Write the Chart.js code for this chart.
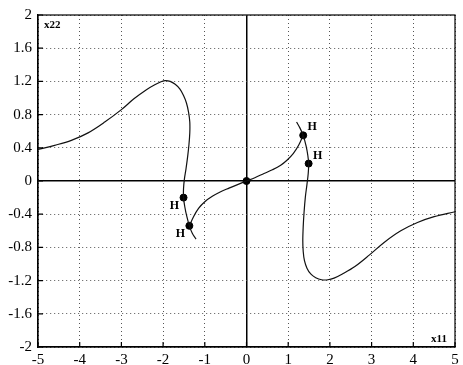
<!DOCTYPE html>
<html>
<head>
<meta charset="utf-8">
<script src="https://cdn.jsdelivr.net/npm/chart.js@4/dist/chart.umd.min.js"></script>
<style>
  html, body { margin: 0; padding: 0; background: #fff; }
  #wrap { width: 463px; height: 365px; }
</style>
</head>
<body>
<div id="wrap"><canvas id="plot"></canvas></div>
<script>
// outer branch, left half
const branchAx = [-5, -4.6, -4.2, -3.8, -3.4, -3.0, -2.7, -2.4, -2.2, -2.05, -1.95, -1.83, -1.71, -1.6, -1.51, -1.44, -1.39, -1.36, -1.36, -1.38, -1.41, -1.45, -1.49, -1.51, -1.51, -1.48, -1.43, -1.37, -1.30, -1.21];
const branchAy = [0.38, 0.43, 0.49, 0.58, 0.71, 0.86, 0.99, 1.10, 1.16, 1.195, 1.21, 1.20, 1.165, 1.11, 1.03, 0.94, 0.83, 0.71, 0.58, 0.44, 0.30, 0.15, 0.02, -0.09, -0.20, -0.31, -0.43, -0.54, -0.63, -0.70];
// branch from the origin to the left
const branchBx = [0, -0.2, -0.42, -0.62, -0.82, -1.0, -1.15, -1.27, -1.37];
const branchBy = [0, -0.04, -0.086, -0.13, -0.185, -0.25, -0.33, -0.43, -0.54];
// outer branch, right half
const branchCx = [1.2, 1.28, 1.36, 1.43, 1.47, 1.49, 1.48, 1.45, 1.41, 1.38, 1.36, 1.35, 1.36, 1.39, 1.45, 1.54, 1.66, 1.8, 1.95, 2.1, 2.3, 2.6, 2.95, 3.3, 3.7, 4.1, 4.5, 5];
const branchCy = [0.71, 0.64, 0.55, 0.42, 0.31, 0.21, 0.09, -0.04, -0.20, -0.38, -0.55, -0.72, -0.85, -0.96, -1.05, -1.12, -1.165, -1.19, -1.19, -1.17, -1.12, -1.03, -0.89, -0.74, -0.60, -0.50, -0.43, -0.37];
// branch from the origin to the right
const branchDx = [0, 0.2, 0.42, 0.62, 0.82, 0.97, 1.12, 1.25, 1.36];
const branchDy = [0, 0.04, 0.09, 0.135, 0.19, 0.25, 0.33, 0.43, 0.55];
// marked points
const markX = [-1.51, -1.37, 1.36, 1.49, 0];
const markY = [-0.2, -0.54, 0.55, 0.21, 0];
const markText = ["H", "H", "H", "H", ""];

const xTicks = [-5, -4, -3, -2, -1, 0, 1, 2, 3, 4, 5];
const yTicks = [-2, -1.6, -1.2, -0.8, -0.4, 0, 0.4, 0.8, 1.2, 1.6, 2];

const SERIF = "'Liberation Serif', 'Times New Roman', serif";

function pts(xs, ys) {
  return xs.map((x, i) => ({ x: x, y: ys[i] }));
}

function curve(xs, ys) {
  return {
    data: pts(xs, ys),
    showLine: true,
    borderColor: "#111",
    borderWidth: 1.2,
    pointRadius: 0,
    tension: 0.35,
    fill: false,
  };
}

const isZero = (c) => c.tick && Math.abs(c.tick.value) < 1e-9;

// frame, inward tick marks, H labels and axis names
const decorations = {
  id: "decorations",
  afterDraw(chart) {
    const ctx = chart.ctx;
    const a = chart.chartArea;
    const xs = chart.scales.x;
    const ys = chart.scales.y;
    ctx.save();
    ctx.strokeStyle = "#000";
    ctx.lineWidth = 1.2;
    ctx.strokeRect(a.left, a.top, a.right - a.left, a.bottom - a.top);

    ctx.beginPath();
    xTicks.forEach((v) => {
      const px = xs.getPixelForValue(v);
      ctx.moveTo(px, a.bottom);
      ctx.lineTo(px, a.bottom - 5);
    });
    yTicks.forEach((v) => {
      const py = ys.getPixelForValue(v);
      ctx.moveTo(a.left, py);
      ctx.lineTo(a.left + 5, py);
    });
    ctx.stroke();

    ctx.fillStyle = "#000";
    ctx.font = "bold 12px " + SERIF;
    ctx.textAlign = "center";
    ctx.textBaseline = "middle";
    markText.forEach((t, i) => {
      if (!t) return;
      const px = xs.getPixelForValue(markX[i]);
      const py = ys.getPixelForValue(markY[i]);
      if (markX[i] < 0) ctx.fillText(t, px - 9, py + 8);
      else ctx.fillText(t, px + 9, py - 8);
    });

    ctx.font = "bold 11px " + SERIF;
    ctx.textAlign = "left";
    ctx.fillText("x22", a.left + 6, a.top + 10);
    ctx.textAlign = "right";
    ctx.fillText("x11", a.right - 8, a.bottom - 8);
    ctx.restore();
  },
};

new Chart(document.getElementById("plot"), {
  type: "scatter",
  data: {
    datasets: [
      curve(branchAx, branchAy),
      curve(branchBx, branchBy),
      curve(branchCx, branchCy),
      curve(branchDx, branchDy),
      {
        data: pts(markX, markY),
        pointRadius: 3.5,
        pointBackgroundColor: "#000",
        pointBorderColor: "#000",
        showLine: false,
      },
    ],
  },
  options: {
    responsive: true,
    maintainAspectRatio: false,
    animation: false,
    layout: { padding: { top: 12, right: 8, left: 0, bottom: 0 } },
    plugins: {
      legend: { display: false },
      tooltip: { enabled: false },
    },
    scales: {
      x: {
        type: "linear",
        min: -5,
        max: 5,
        afterBuildTicks: (s) => { s.ticks = xTicks.map((v) => ({ value: v })); },
        afterFit: (s) => { s.height = 18; },
        ticks: {
          color: "#000",
          padding: 4,
          maxRotation: 0,
          font: { family: SERIF, size: 15 },
          callback: (v) => String(v),
        },
        grid: {
          drawTicks: false,
          color: (c) => (isZero(c) ? "#000" : "#555"),
          lineWidth: (c) => (isZero(c) ? 1.5 : 1),
        },
        border: {
          color: "#000",
          width: 1.2,
          dash: (c) => (isZero(c) ? [] : [1, 3]),
        },
      },
      y: {
        type: "linear",
        min: -2,
        max: 2,
        afterBuildTicks: (s) => { s.ticks = yTicks.map((v) => ({ value: v })); },
        afterFit: (s) => { s.width = 38; },
        ticks: {
          color: "#000",
          padding: 6,
          font: { family: SERIF, size: 15 },
          callback: (v) => String(Math.round(v * 10) / 10),
        },
        grid: {
          drawTicks: false,
          color: (c) => (isZero(c) ? "#000" : "#555"),
          lineWidth: (c) => (isZero(c) ? 1.5 : 1),
        },
        border: {
          color: "#000",
          width: 1.2,
          dash: (c) => (isZero(c) ? [] : [1, 3]),
        },
      },
    },
  },
  plugins: [decorations],
});
</script>
</body>
</html>
